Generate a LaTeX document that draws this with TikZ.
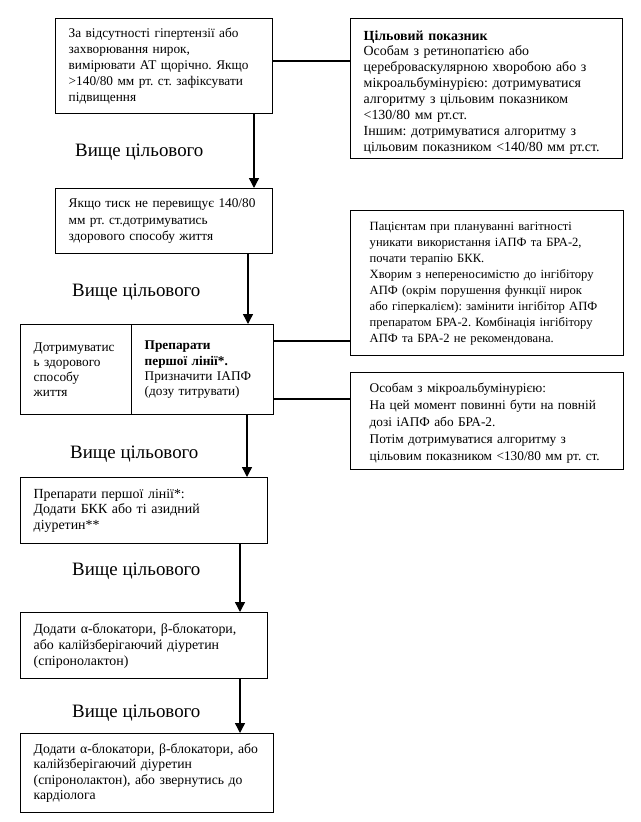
\documentclass[tikz,border=0pt]{standalone}
\usepackage{fontspec}
\setmainfont{Liberation Serif}
\usetikzlibrary{arrows.meta}
\newcommand\myindent[1]{\leftskip=#1pt\relax}
\newcommand\fs[2]{\fontsize{#1}{#2}\selectfont\frenchspacing}
\begin{document}
\begin{tikzpicture}[x=1pt,y=-1pt,
 box/.style={draw,line width=1.4pt,anchor=north west,inner xsep=0pt,inner ysep=0pt,align=left},
 arr/.style={line width=1.4pt,-{Triangle[length=10pt,width=10pt]}},
 link/.style={line width=1.4pt},
 lbl/.style={font=\fs{18.9}{21},anchor=base west,inner sep=0pt}]
\useasboundingbox (0,0) rectangle (640,822);

\node[box,font=\fs{13.3}{16},text width=217pt,minimum height=95pt] (b1) at (55,18) {\myindent{13}За відсутності гіпертензії або\\захворювання нирок,\\вимірювати АТ щорічно. Якщо\\>140/80 мм рт. ст. зафіксувати\\підвищення\par};

\node[box,font=\fs{13.9}{15.9},text width=272pt,minimum height=140pt] (b2) at (350,18) {\myindent{13}\rule{0pt}{17pt}\textbf{Цільовий показник}\\Особам з ретинопатією або\\цереброваскулярною хворобою або з\\мікроальбумінурією: дотримуватися\\алгоритму з цільовим показником\\<130/80 мм рт.ст.\\Іншим: дотримуватися алгоритму з\\цільовим показником <140/80 мм рт.ст.\par};

\node[box,font=\fs{13.3}{16.2},text width=217pt,minimum height=65pt] (b3) at (55,188) {\myindent{13}Якщо тиск не перевищує 140/80\\мм рт. ст.дотримуватись\\здорового способу життя\par};

\node[box,font=\fs{13.3}{15.2},text width=111pt,minimum height=90pt] (s1) at (20,324) {\myindent{13}Дотримуватис\\ь здорового\\способу\\життя\par};
\node[box,font=\fs{13.3}{15.2},text width=142pt,minimum height=90pt] (s2) at (131,324) {\myindent{13}\textbf{Препарати}\\\textbf{першої лінії*.}\\Призначити ІАПФ\\(дозу титрувати)\par};

\node[box,font=\fs{12.6}{16},text width=273pt,minimum height=145pt] (b4) at (350,210) {\myindent{19}Пацієнтам при плануванні вагітності\\уникати використання іАПФ та БРА-2,\\почати терапію БКК.\\Хворим з непереносимістю до інгібітору\\АПФ (окрім порушення функції нирок\\або гіперкалієм): замінити інгібітор АПФ\\препаратом БРА-2. Комбінація інгібітору\\АПФ та БРА-2 не рекомендована.\par};

\node[box,font=\fs{13.3}{17},text width=273pt,minimum height=97pt] (b5) at (350,372) {\myindent{19}\rule{0pt}{14pt}Особам з мікроальбумінурією:\\На цей момент повинні бути на повній\\дозі іАПФ або БРА-2.\\Потім дотримуватися алгоритму з\\цільовим показником <130/80 мм рт. ст.\par};

\node[box,font=\fs{13.9}{15.3},text width=247pt,minimum height=66pt] (b6) at (20,477) {\myindent{13}Препарати першої лінії*:\\Додати БКК або ті азидний\\діуретин**\par};

\node[box,font=\fs{13.9}{16},text width=247pt,minimum height=66pt] (b7) at (20,612) {\myindent{13}Додати α-блокатори, β-блокатори,\\або калійзберігаючий діуретин\\(спіронолактон)\par};

\node[box,font=\fs{13.7}{15.5},text width=253pt,minimum height=79pt] (b8) at (20,733) {\myindent{13}Додати α-блокатори, β-блокатори, або\\калійзберігаючий діуретин\\(спіронолактон), або звернутись до\\кардіолога\par};

\node[lbl] (v1) at (75,156) {Вище цільового};
\node[lbl] (v2) at (72,296) {Вище цільового};
\node[lbl] (v3) at (70,458) {Вище цільового};
\node[lbl] (v4) at (72,575) {Вище цільового};
\node[lbl] (v5) at (72,717) {Вище цільового};

\coordinate (xa) at (254,0);
\coordinate (xb) at (248,0);
\coordinate (xc) at (247,0);
\coordinate (xd) at (240,0);
\coordinate (ya) at (0,61);
\coordinate (yb) at (0,341);
\coordinate (yc) at (0,399);

\draw[arr] (b1.south -| xa) -- (b3.north -| xa);
\draw[arr] (b3.south -| xb) -- (s2.north -| xb);
\draw[arr] (s2.south -| xc) -- (b6.north -| xc);
\draw[arr] (b6.south -| xd) -- (b7.north -| xd);
\draw[arr] (b7.south -| xd) -- (b8.north -| xd);

\draw[link] (b1.east |- ya) -- (b2.west |- ya);
\draw[link] (s2.east |- yb) -- (b4.west |- yb);
\draw[link] (s2.east |- yc) -- (b5.west |- yc);
\end{tikzpicture}
\end{document}
